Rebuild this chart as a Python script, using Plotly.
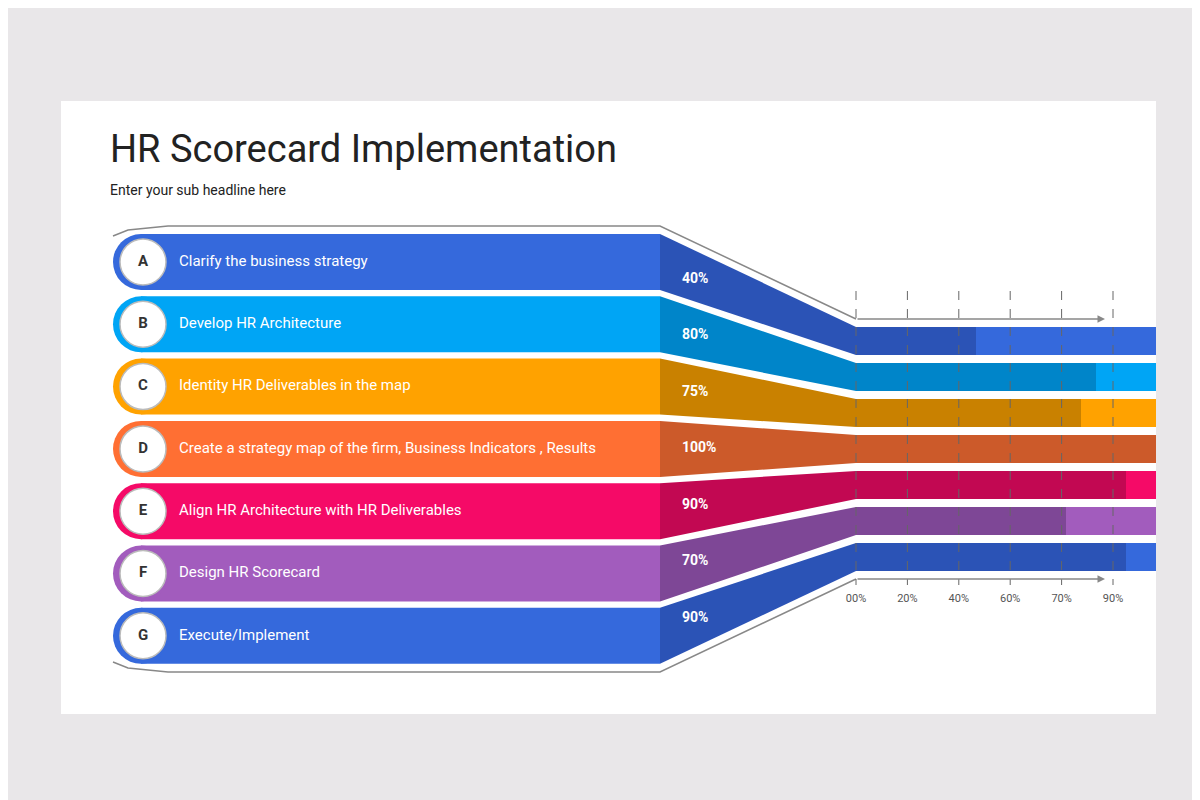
import plotly.graph_objects as go

# data
letters = ["A", "B", "C", "D", "E", "F", "G"]
steps = [
    "Clarify the business strategy",
    "Develop HR Architecture",
    "Identity HR Deliverables in the map",
    "Create a strategy map of the firm, Business Indicators , Results",
    "Align HR Architecture with HR Deliverables",
    "Design HR Scorecard",
    "Execute/Implement",
]
values = [40, 80, 75, 100, 90, 70, 90]
light_colors = ["#3569dc", "#00a5f5", "#ffa200", "#ff6f33", "#f50a67", "#a25cbd", "#3569dc"]
dark_colors = ["#2b53b6", "#0085c9", "#c98100", "#cc5a2a", "#c20852", "#7e4796", "#2b53b6"]
tick_labels = ["00%", "20%", "40%", "60%", "70%", "90%"]

FONT = "Roboto"
LX0, LX1 = 105, 652          # left bar span
RX0, RX1 = 848, 1148         # right bar span
PX_PER_PCT = 3.0


def left_y(i):
    return 254 + 62.3 * i


def right_y(i):
    return 333 + 36 * i


def val_x(v):
    return min(RX0 + v * PX_PER_PCT, RX1)


fig = go.Figure()


def poly(xs, ys, color):
    fig.add_trace(go.Scatter(x=xs, y=ys, mode="lines", fill="toself", fillcolor=color,
                             line=dict(width=0), hoverinfo="skip", showlegend=False))


for i in range(len(letters)):
    ly, ry = left_y(i), right_y(i)
    lh, rh = 28, 14
    # left bar
    poly([LX0 + 28, LX1, LX1, LX0 + 28], [ly - lh, ly - lh, ly + lh, ly + lh], light_colors[i])
    # connector
    poly([LX1, RX0, RX0, LX1], [ly - lh, ry - rh, ry + rh, ly + lh], dark_colors[i])
    # right bars
    poly([RX0, RX1, RX1, RX0], [ry - rh, ry - rh, ry + rh, ry + rh], light_colors[i])
    poly([RX0, val_x(values[i]), val_x(values[i]), RX0], [ry - rh, ry - rh, ry + rh, ry + rh], dark_colors[i])

# rounded ends and letter badges
fig.add_trace(go.Scatter(x=[133] * 7, y=[left_y(i) for i in range(7)], mode="markers",
                         marker=dict(size=56, color=light_colors, line=dict(width=0)),
                         hoverinfo="skip", showlegend=False))
fig.add_trace(go.Scatter(x=[135] * 7, y=[left_y(i) for i in range(7)], mode="markers+text",
                         marker=dict(size=46, color="white", line=dict(width=1.5, color="#bbbbbb")),
                         text=["<b>%s</b>" % l for l in letters], textposition="middle center",
                         textfont=dict(family=FONT, size=15, color="#333333"),
                         hoverinfo="skip", showlegend=False))

# step labels
fig.add_trace(go.Scatter(x=[171] * 7, y=[left_y(i) for i in range(7)], mode="text",
                         text=steps, textposition="middle right",
                         textfont=dict(family=FONT, size=15, color="white"),
                         hoverinfo="skip", showlegend=False))

# percent labels
fig.add_trace(go.Scatter(x=[674] * 7,
                         y=[left_y(i) + (right_y(i) - left_y(i)) * 0.22 for i in range(7)],
                         mode="text", text=["<b>%d%%</b>" % v for v in values],
                         textposition="middle right",
                         textfont=dict(family=FONT, size=14, color="white"),
                         hoverinfo="skip", showlegend=False))

# outline
out_col = "#888888"
fig.add_trace(go.Scatter(x=[105, 120, 160, LX1, RX0], y=[228, 222, 218, 218, 311], mode="lines",
                         line=dict(color=out_col, width=1.5), hoverinfo="skip", showlegend=False))
fig.add_trace(go.Scatter(x=[105, 120, 160, LX1, RX0], y=[654, 660, 664, 664, 571], mode="lines",
                         line=dict(color=out_col, width=1.5), hoverinfo="skip", showlegend=False))

# axis ticks
tick_x = [RX0 + k * 51.4 for k in range(len(tick_labels))]
for tx in tick_x:
    fig.add_shape(type="line", x0=tx, x1=tx, y0=283, y1=577,
                  line=dict(color="#666666", width=1, dash="dash"))
fig.add_trace(go.Scatter(x=tick_x, y=[591] * len(tick_x), mode="text", text=tick_labels,
                         textfont=dict(family=FONT, size=11, color="#555555"),
                         hoverinfo="skip", showlegend=False))
for ay in (311, 571):
    fig.add_annotation(x=1097, y=ay, ax=RX0, ay=ay, xref="x", yref="y", axref="x", ayref="y",
                       showarrow=True, arrowhead=2, arrowsize=1, arrowwidth=1.5,
                       arrowcolor=out_col, text="")

# card
fig.add_shape(type="rect", x0=53, x1=1148, y0=93, y1=706, fillcolor="white",
              line=dict(width=0), layer="below")

fig.add_annotation(x=100, y=141, text="HR Scorecard Implementation", showarrow=False,
                   xanchor="left", yanchor="middle",
                   font=dict(family=FONT, size=38, color="#222222"))
fig.add_annotation(x=100, y=182, text="Enter your sub headline here", showarrow=False,
                   xanchor="left", yanchor="middle",
                   font=dict(family=FONT, size=14, color="#222222"))

fig.update_layout(
    width=1200, height=800, margin=dict(l=0, r=0, t=0, b=0),
    paper_bgcolor="#e9e7e9", plot_bgcolor="#e9e7e9",
    xaxis=dict(range=[0, 1200], visible=False, fixedrange=True),
    yaxis=dict(range=[800, 0], visible=False, fixedrange=True),
)

fig.write_html("out.html")
